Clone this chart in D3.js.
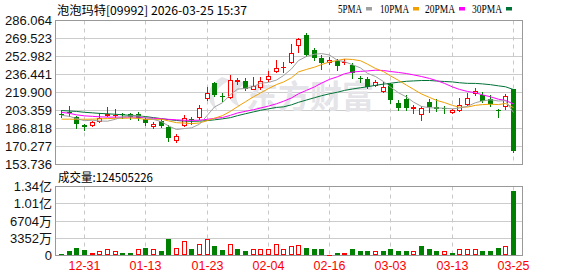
<!DOCTYPE html>
<html><head><meta charset="utf-8">
<script src="https://cdn.jsdelivr.net/npm/d3@7"></script>
<style>html,body{margin:0;padding:0;background:#fff;} svg{display:block}</style>
</head><body><svg id="c" width="578" height="276"></svg>
<script>
const title = "泡泡玛特[09992] 2026-03-25 15:37";
const volLabel = "成交量:124505226";
const dates = ["12-24","12-29","12-30","12-31","01-02","01-05","01-06","01-07","01-08","01-09",
"01-12","01-13","01-14","01-15","01-16","01-19","01-20","01-21","01-22","01-23",
"01-26","01-27","01-28","01-29","01-30","02-02","02-03","02-04","02-05","02-06",
"02-09","02-10","02-11","02-12","02-13","02-16","02-20","02-23","02-24","02-25",
"02-26","02-27","03-02","03-03","03-04","03-05","03-06","03-09","03-10","03-11",
"03-12","03-13","03-16","03-17","03-18","03-19","03-20","03-23","03-24","03-25"];
const open = [200.6,201.7,197.8,190.2,189.6,193.4,199.1,199.1,200.3,200.0,
200.3,195.7,188.9,193.4,188.2,175.9,190.25,195.3,197.8,214.4,
228.6,216.4,216.1,230.4,230.4,223.4,224.9,231.95,240.0,243.0,
248.2,263.25,272.4,258.7,251.8,247.5,248.9,247.5,245.6,232.9,
232.2,227.2,221.3,227.7,210.6,214.0,205.8,200.0,211.5,206.4,
205.5,202.1,203.9,208.9,219.2,217.2,214.0,203.9,207.3,222.8];
const high = [203.5,207.6,198.5,191.2,193.4,200.7,207.0,204.6,201.5,201.5,
202.4,197.3,193.0,195.7,189.8,181.6,199.4,197.8,208.0,224.9,
229.5,219.2,236.3,233.1,233.4,234.3,234.5,239.2,250.2,247.7,
264.2,269.6,274.5,261.0,254.1,252.8,250.5,251.1,246.8,235.4,
234.1,231.3,229.9,228.3,212.8,217.6,208.5,207.2,214.0,214.0,
207.6,205.1,214.9,219.45,223.7,220.6,217.6,204.8,218.5,223.1];
const low = [197.8,198.5,187.1,185.7,188.7,193.0,198.5,197.1,196.6,195.5,
194.8,190.25,187.2,188.0,175.6,174.1,188.7,191.2,195.7,212.6,
217.0,212.1,214.6,227.7,222.2,223.1,223.1,230.4,238.6,238.9,
246.6,257.1,253.7,250.2,241.8,245.9,240.4,246.4,233.4,229.2,
223.7,226.3,220.6,209.9,203.9,203.5,201.5,194.8,202.4,203.3,
201.5,201.2,203.0,208.5,217.2,211.5,207.3,197.8,205.0,164.9];
const close = [200.0,200.7,190.7,188.1,192.7,196.2,200.0,199.55,199.0,197.3,
196.4,191.8,191.2,188.7,177.9,179.9,196.2,194.4,205.5,219.7,
217.2,215.8,231.3,231.0,223.1,225.6,230.9,235.1,242.0,243.6,
256.4,269.2,254.1,252.0,246.6,250.0,244.4,248.2,238.0,232.0,
224.9,229.8,225.2,212.6,205.8,205.5,206.4,205.3,206.4,204.8,
204.4,203.9,208.5,214.6,221.3,212.4,209.4,202.7,216.3,166.5];
const volume = [2600000,8400000,15500000,10400000,3900000,9700000,11700000,9700000,5800000,5800000,
11700000,15500000,11700000,8400000,33000000,14900000,29100000,11700000,21400000,33000000,
17500000,10400000,21400000,11700000,9700000,11700000,13600000,13600000,21400000,13600000,
19400000,20700000,15500000,11700000,11700000,1900000,5800000,3900000,13600000,9700000,
9700000,7800000,7800000,11700000,9700000,9700000,7800000,17500000,11700000,7800000,
7800000,5800000,11700000,11700000,13600000,7800000,9700000,15500000,19400000,124505226];
const volumeUp = [0,0,0,0,1,1,1,1,0,0, 1,0,1,0,0,1,1,0,1,1, 0,0,1,0,0,1,1,1,1,1,
1,1,0,0,0,1,0,1,0,0, 0,1,0,0,0,0,1,0,0,0, 1,0,1,1,1,0,0,0,1,0];
const ma5 = [198.9,198.0,195.9,194.0,194.44,193.68,193.54,195.31,197.49,198.41,
198.45,196.81,195.14,193.08,189.2,185.9,186.78,187.42,190.78,199.14,
206.6,210.52,217.9,223.0,223.68,225.36,228.38,229.14,231.34,235.44,
241.6,249.26,253.06,255.06,255.66,254.38,249.42,248.24,245.44,242.52,
237.5,234.58,229.98,224.9,219.66,215.78,211.1,207.12,205.88,205.68,
205.46,204.96,205.6,207.24,210.54,212.14,213.24,212.08,212.42,201.46];
const ma10 = [195.4,195.4,195.3,195.3,195.4,195.7,195.9,196.2,196.2,196.43,
196.07,195.18,195.23,195.29,193.81,192.18,191.8,191.28,191.93,194.17,
196.25,198.65,202.66,206.89,211.41,215.98,219.45,223.52,227.17,229.56,
233.48,238.82,241.1,243.2,245.55,247.99,249.34,250.65,250.25,249.09,
245.94,242.0,239.11,235.17,231.09,226.64,222.84,218.55,215.39,212.67,
210.62,208.03,206.36,206.56,208.11,208.8,209.1,208.84,209.83,206.0];
const ma20 = [201.65,200.74,199.37,198.46,198.0,197.55,197.27,197.27,197.27,197.27,
197.27,196.63,196.18,195.72,195.26,194.81,194.35,194.35,194.45,195.3,
196.16,196.91,198.94,201.09,202.61,204.08,205.62,207.4,209.55,211.87,
214.87,218.74,221.88,225.05,228.48,231.99,234.4,237.09,238.71,239.33,
239.71,240.41,240.11,239.19,238.32,237.32,236.09,234.6,232.82,230.88,
228.28,225.02,222.74,220.87,219.6,217.72,215.97,213.7,212.61,209.34];
const ma30 = [203.3,202.9,202.5,201.7,201.2,200.7,200.3,199.9,199.4,198.9,
198.3,197.8,196.8,195.9,195.0,194.2,193.6,193.4,193.6,194.1,
194.8,195.7,196.8,198.6,200.4,202.1,203.5,204.9,206.2,206.72,
208.6,210.88,213.0,215.13,216.92,218.72,220.2,221.82,223.12,224.27,
225.22,226.49,227.62,228.42,229.35,230.2,230.54,230.91,230.94,230.44,
230.01,229.62,228.86,228.31,228.25,227.81,227.09,226.01,225.16,222.59];
const maNames = ["5PMA","10PMA","20PMA","30PMA"];
const priceTicks = [286.064,269.523,252.982,236.441,219.900,203.359,186.818,170.277,153.736];
const priceTickLabels = ["286.064","269.523","252.982","236.441","219.900","203.359","186.818","170.277","153.736"];
const volTicks = [134080000,100560000,67040000,33520000,0];
const volTickLabels = ["1.34亿","1.01亿","6704万","3352万","0"];
const dateTicks = ["12-31","01-13","01-23","02-04","02-16","03-03","03-13","03-25"];

const svg = d3.select("#c");
const L = 55.5, R = 522.5;
const PT = 20.5, PB = 164.5, VT = 186.5, VB = 255.5;
const RED = "#ff0000", GREEN = "#008000";
const maColors = ["#a0a0a0","#f0a000","#ff00ff","#007236"];
const crisp = v => Math.round(v - 0.5) + 0.5;

const x = d3.scaleBand().domain(dates).range([57.2, 516.8]);
const cx = d => Math.round(x(d) + x.bandwidth() / 2);
const y = d3.scaleLinear().domain([153.736, 286.064]).range([PB, PT]);
const yv = d3.scaleLinear().domain([0, 134080000]).range([VB, VT]);

const grid = svg.append("g");
priceTicks.forEach((t, i) => {
  if (i > 0 && i < priceTicks.length - 1)
    grid.append("line").attr("x1", L).attr("x2", R).attr("y1", crisp(y(t))).attr("y2", crisp(y(t)))
      .attr("stroke", "#cccccc").attr("stroke-width", 1);
});
volTicks.forEach((t, i) => {
  if (i > 0 && i < volTicks.length - 1)
    grid.append("line").attr("x1", L).attr("x2", R).attr("y1", crisp(yv(t))).attr("y2", crisp(yv(t)))
      .attr("stroke", "#cccccc").attr("stroke-width", 1);
});
dateTicks.forEach(d => {
  const xx = cx(d) + 0.5;
  [[PT, PB], [VT, VB]].forEach(([a, b]) => {
    grid.append("line").attr("x1", xx).attr("x2", xx).attr("y1", a).attr("y2", b)
      .attr("stroke", "#c8c8c8").attr("stroke-width", 1).attr("stroke-dasharray", "4,4");
  });
});

// watermark
const wm = svg.append("g").attr("fill", "#e4e4e9");
wm.append("path").attr("d", "M222,77 C206,86 204,101 218,111 C211,99 213,89 230,80 Z");
wm.append("path").attr("d", "M236,80 C225,90 226,101 240,107 C234,97 235,89 246,83 Z");
wm.append("text").attr("x", 246).attr("y", 108).attr("font-family", "Noto Sans CJK SC")
  .attr("font-weight", "bold").attr("font-size", 32).text("东方财富");

svg.append("rect").attr("x", L).attr("y", PT).attr("width", R - L).attr("height", PB - PT)
  .attr("fill", "none").attr("stroke", "#999").attr("stroke-width", 1);
svg.append("rect").attr("x", L).attr("y", VT).attr("width", R - L).attr("height", VB - VT)
  .attr("fill", "none").attr("stroke", "#999").attr("stroke-width", 1);

// candles
const cg = svg.append("g");
dates.forEach((d, i) => {
  const c = cx(d);
  const o = open[i], cl = close[i], h = high[i], l = low[i];
  const up = cl >= o;
  const col = up ? RED : GREEN;
  cg.append("line").attr("x1", c + 0.5).attr("x2", c + 0.5)
    .attr("y1", Math.round(y(h))).attr("y2", Math.round(y(l)) + 1)
    .attr("stroke", col).attr("stroke-width", 1);
  const yTop = Math.round(y(Math.max(o, cl))), yBot = Math.round(y(Math.min(o, cl)));
  if (up) {
    if (yBot - yTop >= 2) {
      cg.append("rect").attr("x", c - 1.5).attr("y", yTop + 0.5).attr("width", 4).attr("height", yBot - yTop)
        .attr("fill", "#fff").attr("stroke", col).attr("stroke-width", 1);
    } else {
      cg.append("rect").attr("x", c - 2).attr("y", yTop).attr("width", 5).attr("height", Math.max(1, yBot - yTop + 1))
        .attr("fill", col);
    }
  } else {
    cg.append("rect").attr("x", c - 2).attr("y", yTop).attr("width", 5).attr("height", Math.max(1, yBot - yTop))
      .attr("fill", col);
  }
});

// moving averages
const mas = [ma5, ma10, ma20, ma30];
const lineGen = d3.line().x((v, i) => cx(dates[i]) + 0.5).y(v => y(v));
[3, 2, 1, 0].forEach(idx => {
  svg.append("path").attr("d", lineGen(mas[idx])).attr("fill", "none")
    .attr("stroke", maColors[idx]).attr("stroke-width", 1);
});

// volume bars
const vg = svg.append("g");
dates.forEach((d, i) => {
  const c = cx(d);
  const top = Math.round(yv(volume[i]));
  const base = Math.round(VB - 0.5);
  if (volumeUp[i]) {
    if (base - top >= 3) {
      vg.append("rect").attr("x", c - 1.5).attr("y", top + 0.5).attr("width", 4).attr("height", base - top - 1)
        .attr("fill", "#fff").attr("stroke", RED).attr("stroke-width", 1);
    } else {
      vg.append("rect").attr("x", c - 2).attr("y", top).attr("width", 5).attr("height", Math.max(1, base - top)).attr("fill", RED);
    }
  } else {
    vg.append("rect").attr("x", c - 2).attr("y", top).attr("width", 5).attr("height", Math.max(1, base - top)).attr("fill", GREEN);
  }
});

// axis labels
const lab = svg.append("g").attr("font-family", "Liberation Sans, Arial, sans-serif").attr("font-size", 13)
  .attr("fill", "#111").attr("text-anchor", "end");
priceTicks.forEach((t, i) => {
  lab.append("text").attr("x", 52).attr("y", y(t)).attr("dy", "0.35em").text(priceTickLabels[i]);
});
volTicks.forEach((t, i) => {
  lab.append("text").attr("x", 52).attr("y", yv(t)).attr("dy", "0.35em")
    .attr("font-family", "Liberation Sans, Noto Sans CJK SC, sans-serif").text(volTickLabels[i]);
});
const xl = svg.append("g").attr("font-family", "Liberation Sans, Arial, sans-serif").attr("font-size", 12.5)
  .attr("fill", RED).attr("text-anchor", "middle");
dateTicks.forEach(d => {
  xl.append("text").attr("x", cx(d) + 0.5).attr("y", 270).text(d);
});

svg.append("text").attr("x", 57).attr("y", 14.5).attr("font-family", "Noto Sans CJK SC").attr("font-size", 12)
  .attr("fill", "#000").attr("textLength", 190).attr("lengthAdjust", "spacingAndGlyphs").text(title);
svg.append("text").attr("x", 58).attr("y", 181.5).attr("font-family", "Noto Sans CJK SC").attr("font-size", 12)
  .attr("fill", "#000").attr("textLength", 95).attr("lengthAdjust", "spacingAndGlyphs").text(volLabel);

// legend
const legX = [338, 380, 425, 472];
const legW = [24, 29, 30, 30];
maNames.forEach((n, i) => {
  svg.append("text").attr("x", legX[i]).attr("y", 13).attr("font-family", "Liberation Serif, serif")
    .attr("font-size", 12.5).attr("fill", "#000").attr("textLength", legW[i]).attr("lengthAdjust", "spacingAndGlyphs").text(n);
  svg.append("rect").attr("x", legX[i] + legW[i] + 4).attr("y", 7).attr("width", 6).attr("height", 3.5).attr("fill", maColors[i]);
});
</script>
</body></html>
